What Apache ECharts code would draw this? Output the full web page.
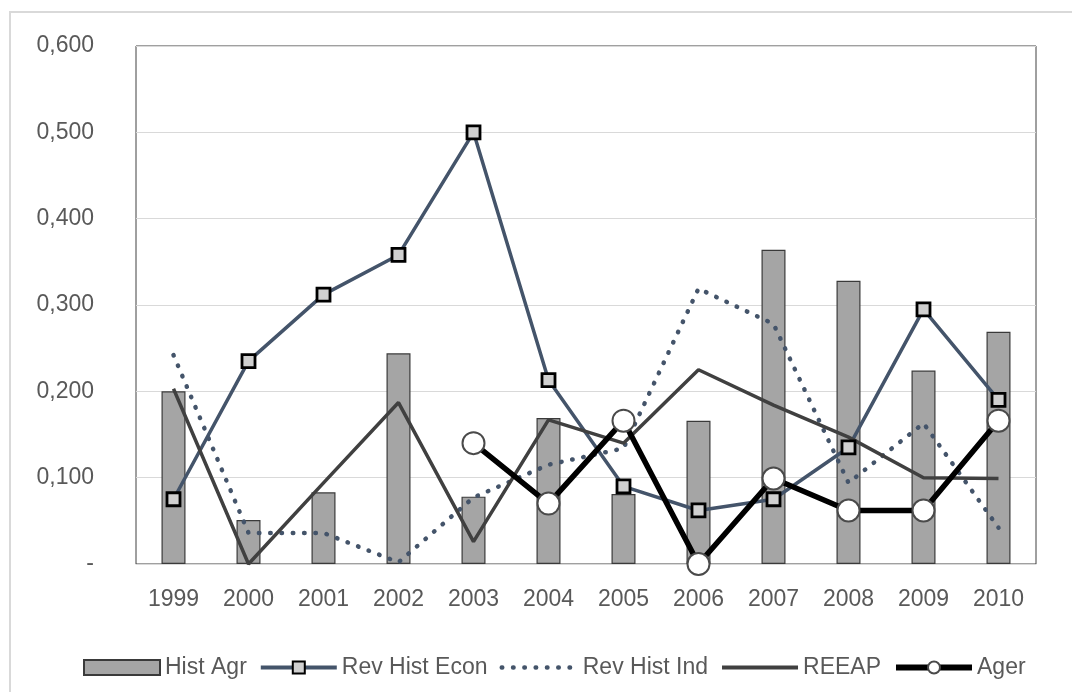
<!DOCTYPE html>
<html>
<head>
<meta charset="utf-8">
<script src="https://cdn.jsdelivr.net/npm/echarts@6/dist/echarts.min.js"></script>
<style>
html,body{margin:0;padding:0;background:#fff;}
#chart{width:1072px;height:692px;}
</style>
</head>
<body>
<div id="chart"></div>
<script>
var years = ['1999','2000','2001','2002','2003','2004','2005','2006','2007','2008','2009','2010'];
var histAgr = [0.200,0.051,0.083,0.244,0.078,0.169,0.081,0.166,0.364,0.328,0.224,0.269];
var revHistEcon = [0.075,0.235,0.312,0.358,0.500,0.213,0.090,0.062,0.075,0.135,0.295,0.190];
var revHistInd = [0.242,0.036,0.036,0.002,0.077,0.115,0.134,0.319,0.278,0.094,0.163,0.042];
var reeap = [0.203,0.000,0.094,0.187,0.026,0.167,0.140,0.225,0.184,0.147,0.100,0.099];
var ager = [null,null,null,null,0.140,0.070,0.166,0.000,0.099,0.062,0.062,0.166];
var yTickLabels = ['-','0,100','0,200','0,300','0,400','0,500','0,600'];

var FONT = 'Liberation Sans';
var chart = echarts.init(document.getElementById('chart'), null, {renderer:'canvas'});
chart.setOption({
  animation:false,
  backgroundColor:'#ffffff',
  graphic:[{type:'rect', shape:{x:10,y:12,width:1100,height:720}, style:{fill:'none', stroke:'#d9d9d9', lineWidth:2}, z:-10}],
  grid:{left:136, right:36, top:46, bottom:128, show:true, borderColor:'#404040', borderWidth:1, backgroundColor:'transparent'},
  legend:{
    left:78, top:651, itemWidth:76, itemHeight:15, itemGap:12,
    textStyle:{fontFamily:FONT, fontSize:23, color:'#595959'},
    data:[
      {name:'Hist Agr', icon:'rect'},
      {name:'Rev Hist Econ', lineStyle:{width:4}},
      {name:'Rev Hist Ind', itemStyle:{opacity:0, color:'rgba(0,0,0,0)', borderWidth:0}, lineStyle:{width:4.5}},
      {name:'REEAP', itemStyle:{opacity:0, color:'rgba(0,0,0,0)', borderWidth:0}, lineStyle:{width:4}},
      {name:'Ager', lineStyle:{width:6}}
    ]
  },
  xAxis:{
    type:'category', data:years,
    axisLine:{show:true, lineStyle:{color:'#d9d9d9', width:1}},
    axisTick:{show:false},
    axisLabel:{fontFamily:FONT, fontSize:23, color:'#595959', margin:24}
  },
  yAxis:{
    type:'value', min:0, max:0.6, interval:0.1,
    axisLine:{show:false}, axisTick:{show:false},
    splitLine:{lineStyle:{color:'#d9d9d9', width:1}},
    axisLabel:{fontFamily:FONT, fontSize:23, color:'#595959', margin:42,
      formatter:function(v){ return yTickLabels[Math.round(v*10)]; }}
  },
  series:[
    {name:'Hist Agr', type:'bar', data:histAgr, barWidth:24,
     itemStyle:{color:'#a5a5a5', borderColor:'#3a3a3a', borderWidth:1.2}},
    {name:'Rev Hist Econ', type:'line', data:revHistEcon, symbol:'rect', symbolSize:13,
     lineStyle:{color:'#44546A', width:3.5},
     itemStyle:{color:'#d0d0d0', borderColor:'#000000', borderWidth:2.8}},
    {name:'Rev Hist Ind', type:'line', data:revHistInd, symbol:'circle', showSymbol:false, symbolSize:0,
     lineStyle:{color:'#44546A', width:4.5, type:[0.5,10.8], cap:'round'},
     itemStyle:{color:'#44546A'}},
    {name:'REEAP', type:'line', data:reeap, symbol:'circle', showSymbol:false, symbolSize:0,
     lineStyle:{color:'#404040', width:3.5},
     itemStyle:{color:'#404040'}},
    {name:'Ager', type:'line', data:ager, symbol:'circle', symbolSize:22,
     lineStyle:{color:'#000000', width:5.5},
     itemStyle:{color:'#ffffff', borderColor:'#4a4a4a', borderWidth:2}}
  ]
});
</script>
</body>
</html>
